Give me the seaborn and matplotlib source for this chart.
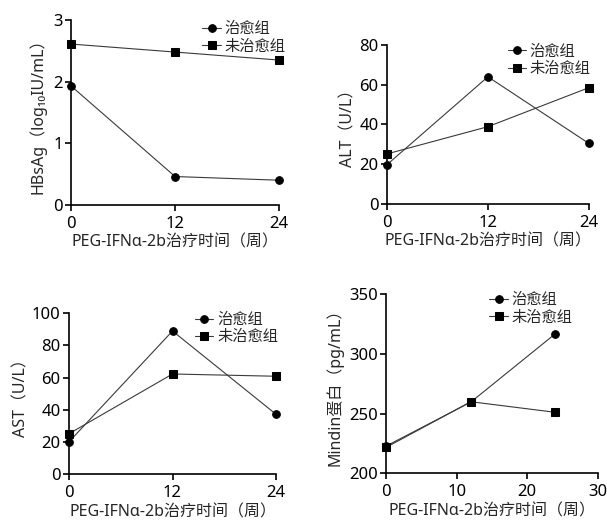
import matplotlib
matplotlib.use('Agg')
import matplotlib.pyplot as plt
import seaborn as sns
import pandas as pd

weeks = [0, 12, 24]
groups = ['治愈组', '未治愈组']

hbsag_cured = [1.93, 0.46, 0.40]
hbsag_uncured = [2.61, 2.48, 2.35]
alt_cured = [19.8, 64.0, 30.5]
alt_uncured = [25.2, 38.9, 58.5]
ast_cured = [20.2, 89.0, 37.3]
ast_uncured = [25.2, 62.3, 60.9]
mindin_cured = [222.9, 259.7, 317.0]
mindin_uncured = [221.8, 260.0, 251.1]

xlabel = 'PEG-IFNα-2b治疗时间（周）'

sns.set_theme(style='ticks')
plt.rcParams['font.family'] = ['Noto Sans', 'Noto Sans CJK SC', 'DejaVu Sans']
plt.rcParams['axes.unicode_minus'] = False


def make_df(cured, uncured):
    return pd.DataFrame({
        'week': weeks * 2,
        'value': cured + uncured,
        'group': [groups[0]] * 3 + [groups[1]] * 3,
    })


def panel(ax, cured, uncured, ylabel, ylim, yticks, xlim, xticks, legend_anchor, ypad=2):
    df = make_df(cured, uncured)
    sns.lineplot(data=df, x='week', y='value', hue='group', style='group',
                 hue_order=groups, style_order=groups,
                 palette=['black', 'black'], markers={'治愈组': 'o', '未治愈组': 's'},
                 dashes=False, markersize=5.5, linewidth=0.8,
                 markeredgecolor='black', ax=ax, clip_on=False)
    for ln in ax.lines:
        ln.set_color('#3a3a3a')
        ln.set_markerfacecolor('black')
        ln.set_markeredgecolor('black')
    ax.set_xlim(*xlim)
    ax.set_ylim(*ylim)
    ax.set_xticks(xticks)
    ax.set_yticks(yticks)
    ax.set_xlabel(xlabel, fontsize=11.5, labelpad=2)
    ax.set_ylabel(ylabel, fontsize=11.5, labelpad=ypad)
    ax.tick_params(labelsize=12, width=1.2, length=4, pad=2, colors='black')
    ax.tick_params(axis='x', pad=4)
    for s in ['left', 'bottom']:
        ax.spines[s].set_linewidth(1.2)
        ax.spines[s].set_color('black')
    sns.despine(ax=ax)
    leg = ax.legend(loc='upper right', bbox_to_anchor=legend_anchor, frameon=False,
                    fontsize=11, handlelength=1.2, handletextpad=0.25,
                    labelspacing=0.15, borderaxespad=0)
    for h in leg.legend_handles:
        h.set_markersize(5.5)
        h.set_color('#3a3a3a')
        h.set_markerfacecolor('black')
        h.set_markeredgecolor('black')


fig = plt.figure(figsize=(6.07, 5.2), dpi=100)
ax1 = fig.add_axes([0.117, 0.606, 0.343, 0.3555])
ax2 = fig.add_axes([0.6376, 0.6077, 0.3324, 0.3058])
ax3 = fig.add_axes([0.1137, 0.0879, 0.341, 0.3096])
ax4 = fig.add_axes([0.6364, 0.0898, 0.3483, 0.3442])

panel(ax1, hbsag_cured, hbsag_uncured, 'HBsAg（log₁₀IU/mL）',
      (0, 3), [0, 1, 2, 3], (0, 24), [0, 12, 24], (1.06, 1.02), ypad=5)
panel(ax2, alt_cured, alt_uncured, 'ALT（U/L）',
      (0, 80), [0, 20, 40, 60, 80], (0, 24), [0, 12, 24], (1.04, 1.04))
panel(ax3, ast_cured, ast_uncured, 'AST（U/L）',
      (0, 100), [0, 20, 40, 60, 80, 100], (0, 24), [0, 12, 24], (1.04, 1.04))
panel(ax4, mindin_cured, mindin_uncured, 'Mindin蛋白（pg/mL）',
      (200, 350), [200, 250, 300, 350], (0, 30), [0, 10, 20, 30], (0.91, 1.04), ypad=4)

fig.savefig('out.png', dpi=100)
